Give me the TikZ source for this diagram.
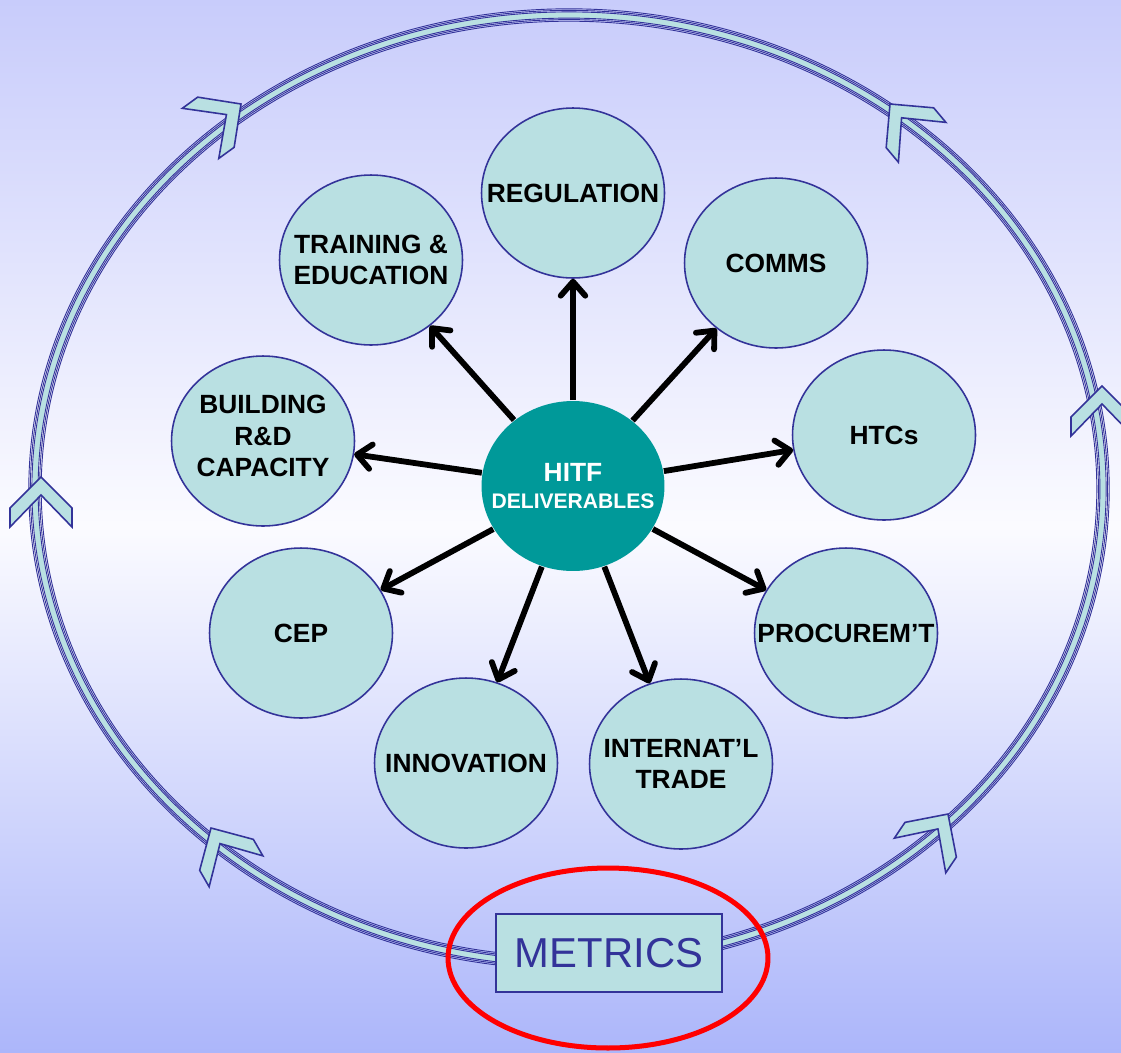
\documentclass[tikz,border=0pt]{standalone}
\usepackage{fontspec}
\setmainfont{Liberation Sans}
\usetikzlibrary{arrows.meta, shapes.geometric, positioning}

\definecolor{bgtop}{RGB}{200,204,251}
\definecolor{bgmid}{RGB}{251,251,255}
\definecolor{bgbot}{RGB}{172,182,250}
\definecolor{paleteal}{RGB}{185,224,226}
\definecolor{navy}{RGB}{51,51,153}
\definecolor{hitfteal}{RGB}{0,153,153}

\tikzset{
  deliv/.style={ellipse, draw=navy, line width=0.9pt, fill=paleteal,
    minimum width=3.66cm, minimum height=3.4cm, inner sep=0pt},
  delivtext/.style={font=\fontsize{15}{18}\selectfont\bfseries, align=center, text=black},
  chevron/.pic={\draw[navy, line width=0.9pt, fill=paleteal]
    (0,0) -- (31,31) -- (31,50) -- (0,18) -- (-31,50) -- (-31,31) -- cycle;}
}

\begin{document}
\begin{tikzpicture}[x=0.02cm, y=-0.02cm]
  \useasboundingbox (0,0) rectangle (1121,1052);
  \shade[top color=bgtop, bottom color=bgbot, middle color=bgmid] (0,0) rectangle (1121,1052);

  % outer loop
  \coordinate (ringc) at (569,489);
  \draw[paleteal, line width=0.11cm] (ringc) ellipse [x radius=10.68cm, y radius=9.48cm];
  \foreach \d in {-6.2,-4.6,-3.1,3.1,4.6,6.2}
    \draw[navy, line width=0.018cm] (ringc) ellipse [x radius={(534+\d)*0.02cm}, y radius={(474+\d)*0.02cm}];

  \pic[rotate=-54] at (241,104) {chevron};
  \pic at (41,477) {chevron};
  \pic[rotate=30] at (211,828) {chevron};
  \pic[rotate=40] at (890,104) {chevron};
  \pic at (1102,386) {chevron};
  \pic[rotate=-34] at (948,814) {chevron};

  % deliverables
  \node[deliv, fill=hitfteal, draw=none,
    label={[align=center, text=white, font=\bfseries]center:{\fontsize{15}{18}\selectfont HITF\\[3pt]\fontsize{12}{14}\selectfont DELIVERABLES}}] (hitf) at (573,486) {};
  \node[deliv, label={[delivtext]center:{REGULATION}}] (reg) at (573,193) {};
  \node[deliv, label={[delivtext]center:{COMMS}}] (comms) at (776,263) {};
  \node[deliv, label={[delivtext]center:{HTCs}}] (htcs) at (884,435) {};
  \node[deliv, label={[delivtext]center:{PROCUREM'T}}] (proc) at (846,633) {};
  \node[deliv, label={[delivtext]center:{INTERNAT'L\\TRADE}}] (trade) at (681,764) {};
  \node[deliv, label={[delivtext]center:{INNOVATION}}] (innov) at (466,763) {};
  \node[deliv, label={[delivtext]center:{CEP}}] (cep) at (301,633) {};
  \node[deliv, label={[delivtext, yshift=0.1cm]center:{BUILDING\\R\&D\\CAPACITY}}] (build) at (263,441) {};
  \node[deliv, label={[delivtext]center:{TRAINING \&\\EDUCATION}}] (train) at (371,260) {};

  \tikzset{delarrow/.style={-{Straight Barb[length=8pt,width=14pt,line cap=round,line join=round]}, line width=3.3pt, black}}

  \path (hitf) edge [delarrow] (reg);
  \path (hitf) edge [delarrow] (comms);
  \path (hitf) edge [delarrow] (htcs);
  \path (hitf) edge [delarrow] (proc);
  \path (hitf) edge [delarrow] (trade);
  \path (hitf) edge [delarrow] (innov);
  \path (hitf) edge [delarrow] (cep);
  \path (hitf) edge [delarrow] (build);
  \path (hitf) edge [delarrow] (train);

  % metrics
  \node[draw=navy, line width=0.9pt, fill=paleteal, minimum width=4.52cm, minimum height=1.56cm,
    font=\fontsize{23.8}{28}\selectfont, text=navy] (metrics) at (609,953) {METRICS};
  \node[ellipse, draw=red, line width=2.85pt, minimum width=6.4cm, minimum height=3.6cm] (focus) at (608,958) {};
\end{tikzpicture}
\end{document}
